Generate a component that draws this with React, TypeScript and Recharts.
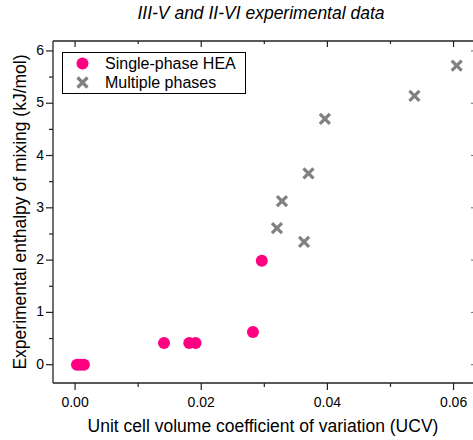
import React from 'react';
import { ScatterChart, Scatter, XAxis, YAxis, Legend, Label } from 'recharts';

const heaX = [0.0003, 0.0008, 0.0014, 0.0141, 0.0181, 0.0191, 0.0282, 0.0296];
const heaY = [0, 0, 0, 0.415, 0.415, 0.415, 0.625, 1.99];
const multiX = [0.032, 0.0328, 0.0363, 0.037, 0.0396, 0.0538, 0.0605];
const multiY = [2.61, 3.13, 2.35, 3.66, 4.7, 5.14, 5.72];

const xTicks = [0, 0.01, 0.02, 0.03, 0.04, 0.05, 0.06];
const xMajor = [0, 0.02, 0.04, 0.06];
const yTicks = [0, 0.5, 1, 1.5, 2, 2.5, 3, 3.5, 4, 4.5, 5, 5.5, 6];
const yMajor = [0, 1, 2, 3, 4, 5, 6];

const seriesNames = ['Single-phase HEA', 'Multiple phases'];

const heaData = heaX.map((x, i) => ({ x, y: heaY[i] }));
const multiData = multiX.map((x, i) => ({ x, y: multiY[i] }));

const FONT = '"Liberation Sans", Arial, sans-serif';
const AX = '#222';
const PINK = '#ff0080';
const GRAY = '#808080';

const isMaj = (arr: number[], v: number) => arr.some((m) => Math.abs(m - v) < 1e-9);

const BottomTick = (p: any) => {
  const major = isMaj(xMajor, p.payload.value);
  return (
    <g>
      <line x1={p.x} x2={p.x} y1={p.y} y2={p.y + (major ? 7 : 4)} stroke={AX} strokeWidth={1.2} />
      {major && (
        <text x={p.x} y={p.y + 23.5} textAnchor="middle" fontFamily={FONT} fontSize={14} fill="#000">
          {p.payload.value.toFixed(2)}
        </text>
      )}
    </g>
  );
};

const TopTick = (p: any) => {
  const major = isMaj(xMajor, p.payload.value);
  return <line x1={p.x} x2={p.x} y1={p.y} y2={p.y + (major ? 6 : 3)} stroke={AX} strokeWidth={1.2} />;
};

const LeftTick = (p: any) => {
  const major = isMaj(yMajor, p.payload.value);
  return (
    <g>
      <line x1={p.x - (major ? 7 : 4)} x2={p.x} y1={p.y} y2={p.y} stroke={AX} strokeWidth={1.2} />
      {major && (
        <text x={p.x - 9} y={p.y + 4} textAnchor="end" fontFamily={FONT} fontSize={14} fill="#000">
          {p.payload.value}
        </text>
      )}
    </g>
  );
};

const RightTick = (p: any) => {
  const major = isMaj(yMajor, p.payload.value);
  return <line x1={p.x - (major ? 4 : 1)} x2={p.x} y1={p.y} y2={p.y} stroke="#666" strokeWidth={1} />;
};

const Dot = (p: any) => <circle cx={p.cx} cy={p.cy} r={6} fill={PINK} />;
const Cross = (p: any) => (
  <g stroke={GRAY} strokeWidth={3.2}>
    <line x1={p.cx - 5} y1={p.cy - 5} x2={p.cx + 5} y2={p.cy + 5} />
    <line x1={p.cx - 5} y1={p.cy + 5} x2={p.cx + 5} y2={p.cy - 5} />
  </g>
);

const LegendBox = () => (
  <div
    style={{
      border: '1.2px solid #000',
      width: 184,
      height: 42,
      boxSizing: 'border-box',
      background: '#fff',
      fontFamily: FONT,
      fontSize: 16,
      paddingTop: 1,
    }}
  >
    {seriesNames.map((name, i) => (
      <div key={name} style={{ display: 'flex', alignItems: 'center', height: 19 }}>
        <svg width={42} height={19} style={{ flex: 'none' }}>
          {i === 0 ? (
            <circle cx={19.5} cy={9.5} r={6} fill={PINK} />
          ) : (
            <g stroke={GRAY} strokeWidth={3.2}>
              <line x1={14.5} y1={4.5} x2={24.5} y2={14.5} />
              <line x1={14.5} y1={14.5} x2={24.5} y2={4.5} />
            </g>
          )}
        </svg>
        <span style={{ lineHeight: '19px', color: '#000' }}>{name}</span>
      </div>
    ))}
  </div>
);

const renderTitle = (p: any) => {
  const vb = p.viewBox;
  return (
    <text x={vb.x + vb.width / 2 - 3} y={19} textAnchor="middle" fontFamily={FONT} fontSize={17.5} fontStyle="italic" fill="#000">
      III-V and II-VI experimental data
    </text>
  );
};

const renderXLabel = (p: any) => {
  const vb = p.viewBox;
  return (
    <text x={vb.x + vb.width / 2 - 1} y={vb.y + 49} textAnchor="middle" fontFamily={FONT} fontSize={17.5} fill="#000">
      Unit cell volume coefficient of variation (UCV)
    </text>
  );
};

const renderYLabel = (p: any) => {
  const vb = p.viewBox;
  const cy = vb.y + vb.height / 2;
  return (
    <text x={26} y={cy} transform={`rotate(-90 26 ${cy})`} textAnchor="middle" fontFamily={FONT} fontSize={17.5} fill="#000">
      Experimental enthalpy of mixing (kJ/mol)
    </text>
  );
};

export default function App() {
  return (
    <div style={{ position: 'absolute', left: 0, top: 0, width: 473, height: 440, overflow: 'hidden', background: '#fff' }}>
      <ScatterChart width={476} height={440} margin={{ top: 40, right: 0, bottom: 0, left: 0 }}>
        <XAxis
          xAxisId="b"
          type="number"
          dataKey="x"
          domain={[-0.0035, 0.0634]}
          ticks={xTicks}
          allowDataOverflow
          height={57}
          tickSize={0}
          tickMargin={0}
          tickLine={false}
          tick={<BottomTick />}
          axisLine={{ stroke: AX, strokeWidth: 1.3 }}
          interval={0}
        >
          <Label content={renderXLabel} />
        </XAxis>
        <XAxis
          xAxisId="t"
          orientation="top"
          type="number"
          dataKey="x"
          domain={[-0.0035, 0.0634]}
          ticks={xTicks}
          allowDataOverflow
          height={1}
          tickSize={0}
          tickMargin={0}
          tickLine={false}
          tick={<TopTick />}
          axisLine={{ stroke: AX, strokeWidth: 1.3 }}
          interval={0}
        >
          <Label content={renderTitle} />
        </XAxis>
        <YAxis
          yAxisId="l"
          type="number"
          dataKey="y"
          domain={[-0.35, 6.19]}
          ticks={yTicks}
          allowDataOverflow
          width={53}
          tickSize={0}
          tickMargin={0}
          tickLine={false}
          tick={<LeftTick />}
          axisLine={{ stroke: AX, strokeWidth: 1.3 }}
          interval={0}
        >
          <Label content={renderYLabel} />
        </YAxis>
        <YAxis
          yAxisId="r"
          orientation="right"
          type="number"
          dataKey="y"
          domain={[-0.35, 6.19]}
          ticks={yTicks}
          allowDataOverflow
          width={1}
          tickSize={0}
          tickMargin={0}
          tickLine={false}
          tick={<RightTick />}
          axisLine={{ stroke: AX, strokeWidth: 1.3 }}
          interval={0}
        />
        <Legend
          layout="vertical"
          align="center"
          verticalAlign="middle"
          content={<LegendBox />}
          wrapperStyle={{ position: 'absolute', left: 62, top: 52, width: 184, height: 42 }}
        />
        <Scatter name={seriesNames[0]} data={heaData} xAxisId="b" yAxisId="l" fill={PINK} shape={Dot} isAnimationActive={false} />
        <Scatter name={seriesNames[1]} data={multiData} xAxisId="b" yAxisId="l" fill={GRAY} shape={Cross} isAnimationActive={false} />
      </ScatterChart>
    </div>
  );
}
